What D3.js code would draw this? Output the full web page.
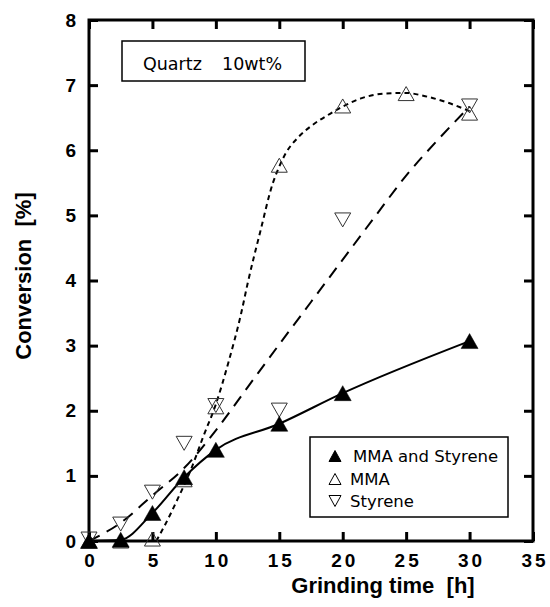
<!DOCTYPE html>
<html>
<head>
<meta charset="utf-8">
<script src="https://cdn.jsdelivr.net/npm/d3@7"></script>
<style>
  html, body { margin: 0; padding: 0; background: #fff; }
  svg { display: block; }
</style>
</head>
<body>
<div id="chart"></div>
<script>
// ---------- data ----------
const timeMS   = [0, 2.5, 5, 7.5, 10, 15, 20, 30];
const convMS   = [0, 0.02, 0.43, 0.98, 1.4, 1.8, 2.27, 3.07];

const timeMMA  = [0, 2.5, 5, 7.5, 10, 15, 20, 25, 30];
const convMMA  = [0, 0, 0.03, 0.94, 2.06, 5.77, 6.68, 6.87, 6.57];

const timeSty  = [0, 2.5, 5, 7.5, 10, 15, 20, 30];
const convSty  = [0.03, 0.26, 0.75, 1.5, 2.08, 2.01, 4.93, 6.68];

// fitted guide curves
const fitMMAt  = [5.3, 6, 7, 8, 9, 10, 11, 12, 12.5, 13.5, 14.5, 15, 15.5, 16.5, 17.5, 19, 20, 21.5, 23.3, 25, 26.5, 28.3, 30];
const fitMMAv  = [0, 0.25, 0.65, 1.08, 1.6, 2.1, 2.75, 3.5, 3.95, 4.75, 5.5, 5.75, 5.95, 6.2, 6.37, 6.56, 6.67, 6.8, 6.87, 6.88, 6.83, 6.73, 6.6];

const fitStyt  = [0, 2.5, 5, 7.5, 10, 12.5, 15, 17.5, 20, 22.5, 25, 27.5, 30];
const fitStyv  = [0, 0.28, 0.7, 1.12, 1.7, 2.36, 3.02, 3.67, 4.32, 4.97, 5.61, 6.16, 6.67];

const xTicks   = [0, 5, 10, 15, 20, 25, 30, 35];
const yTicks   = [0, 1, 2, 3, 4, 5, 6, 7, 8];
const legendLabels = ["MMA and Styrene", "MMA", "Styrene"];
const noteText = "Quartz";
const noteText2 = "10wt%";
const xTitle = "Grinding time  [h]";
const yTitle = "Conversion  [%]";

// ---------- layout ----------
const W = 550, H = 607;
const L = 89, R = 533, T = 20, B = 541;

const svg = d3.select("#chart").append("svg").attr("width", W).attr("height", H);

const x = d3.scaleLinear().domain([0, 35]).range([L, R]);
const y = d3.scaleLinear().domain([0, 8]).range([B, T]);

const tickFont = "'Liberation Sans', Arial, Helvetica, sans-serif";
const textFont = "'DejaVu Sans', Verdana, sans-serif";

// axes (inward ticks on all sides)
const gx = svg.append("g").attr("transform", `translate(0,${B})`)
  .call(d3.axisBottom(x).tickValues(xTicks).tickSizeInner(-9).tickSizeOuter(0).tickPadding(12.5));
const gy = svg.append("g").attr("transform", `translate(${L},0)`)
  .call(d3.axisLeft(y).tickValues(yTicks).tickSizeInner(-9).tickSizeOuter(0).tickPadding(13));
const gt = svg.append("g").attr("transform", `translate(0,${T})`)
  .call(d3.axisTop(x).tickValues(xTicks).tickSizeInner(-9).tickSizeOuter(0).tickFormat(""));
const gr = svg.append("g").attr("transform", `translate(${R},0)`)
  .call(d3.axisRight(y).tickValues(yTicks).tickSizeInner(-9).tickSizeOuter(0).tickFormat(""));

[gx, gy, gt, gr].forEach(g => {
  g.select(".domain").remove();
  g.selectAll(".tick line").attr("stroke", "#000").attr("stroke-width", 3);
});
gx.selectAll(".tick text")
  .attr("font-family", tickFont).attr("font-weight", "bold").attr("font-size", 19)
  .attr("fill", "#000").style("letter-spacing", "3px").attr("dx", 1.5);
gy.selectAll(".tick text")
  .attr("font-family", tickFont).attr("font-weight", "bold").attr("font-size", 19)
  .attr("fill", "#000");

// frame
svg.append("rect").attr("x", L).attr("y", T).attr("width", R - L).attr("height", B - T)
  .attr("fill", "none").attr("stroke", "#000").attr("stroke-width", 3);

// axis titles
svg.append("text").attr("x", 383).attr("y", 593).attr("text-anchor", "middle")
  .attr("font-family", tickFont).attr("font-weight", "bold").attr("font-size", 22)
  .style("white-space", "pre").text(xTitle);
svg.append("text").attr("transform", "translate(31,276) rotate(-90)").attr("text-anchor", "middle")
  .attr("font-family", tickFont).attr("font-weight", "bold").attr("font-size", 22)
  .style("white-space", "pre").text(yTitle);

// lines
const zip = (a, b) => a.map((v, i) => [v, b[i]]);
const line = d3.line().x(d => x(d[0])).y(d => y(d[1])).curve(d3.curveMonotoneX);

svg.append("path").attr("d", line(zip(fitStyt, fitStyv)))
  .attr("fill", "none").attr("stroke", "#000").attr("stroke-width", 2).attr("stroke-dasharray", "12,8");
svg.append("path").attr("d", line(zip(fitMMAt, fitMMAv)))
  .attr("fill", "none").attr("stroke", "#000").attr("stroke-width", 2).attr("stroke-dasharray", "5,4");
svg.append("path").attr("d", line(zip(timeMS, convMS)))
  .attr("fill", "none").attr("stroke", "#000").attr("stroke-width", 2);

// triangle markers (bbox centred)
function tri(cx, cy, w, h, up) {
  const hw = w / 2, hh = h / 2;
  return up
    ? `M${cx},${cy - hh}L${cx + hw},${cy + hh}L${cx - hw},${cy + hh}Z`
    : `M${cx},${cy + hh}L${cx + hw},${cy - hh}L${cx - hw},${cy - hh}Z`;
}

svg.append("g").selectAll("path").data(zip(timeSty, convSty)).join("path")
  .attr("d", d => tri(x(d[0]), y(d[1]), 16, 14, false))
  .attr("fill", "none").attr("stroke", "#333").attr("stroke-width", 1);
svg.append("g").selectAll("path").data(zip(timeMMA, convMMA)).join("path")
  .attr("d", d => tri(x(d[0]), y(d[1]), 16, 14, true))
  .attr("fill", "none").attr("stroke", "#333").attr("stroke-width", 1);
svg.append("g").selectAll("path").data(zip(timeMS, convMS)).join("path")
  .attr("d", d => tri(x(d[0]), y(d[1]), 17, 15, true))
  .attr("fill", "#000").attr("stroke", "#000").attr("stroke-width", 0.5);

// note box
svg.append("rect").attr("x", 122).attr("y", 41).attr("width", 183).attr("height", 40)
  .attr("fill", "#fff").attr("stroke", "#000").attr("stroke-width", 1.5);
svg.append("text").attr("x", 143).attr("y", 70)
  .attr("font-family", textFont).attr("font-size", 17.5).attr("fill", "#000").text(noteText);
svg.append("text").attr("x", 222).attr("y", 70)
  .attr("font-family", textFont).attr("font-size", 17.5).attr("fill", "#000").text(noteText2);

// legend
svg.append("rect").attr("x", 310).attr("y", 437).attr("width", 198).attr("height", 80)
  .attr("fill", "#fff").attr("stroke", "#000").attr("stroke-width", 1.5);
const legRows = [
  {y: 456, up: true, fill: "#000", tx: 353},
  {y: 479, up: true, fill: "none", tx: 350},
  {y: 501, up: false, fill: "none", tx: 350}
];
legRows.forEach((r, i) => {
  svg.append("path").attr("d", tri(335, r.y, 12, 11, r.up))
    .attr("fill", r.fill).attr("stroke", "#000").attr("stroke-width", 1);
  svg.append("text").attr("x", r.tx).attr("y", r.y + 6)
    .attr("font-family", textFont).attr("font-size", 16.5).attr("fill", "#000").text(legendLabels[i]);
});
</script>
</body>
</html>
